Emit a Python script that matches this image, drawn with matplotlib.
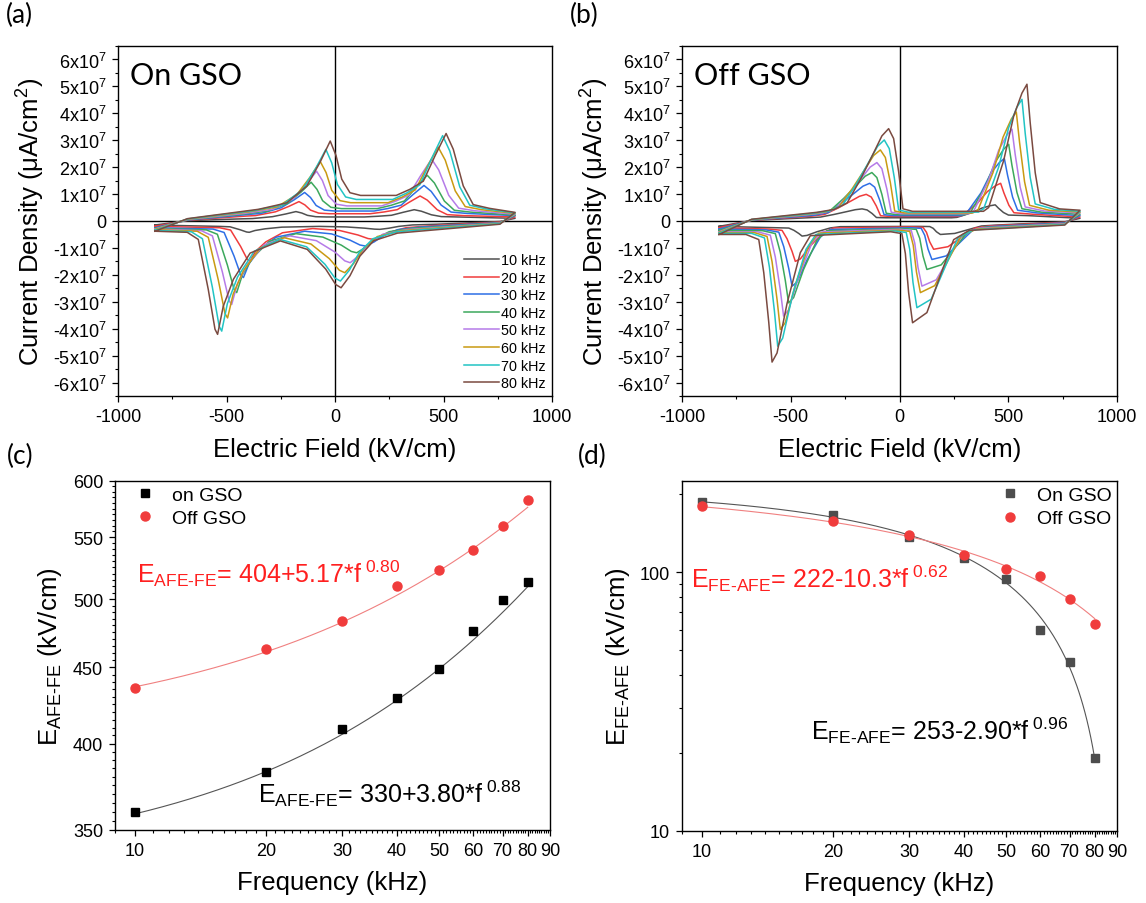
import numpy as np
import matplotlib
matplotlib.use("Agg")
import matplotlib.pyplot as plt
from matplotlib.ticker import FixedLocator, MultipleLocator, FuncFormatter, NullFormatter

plt.rcParams.update({
    'font.family': ['Liberation Sans', 'DejaVu Sans'],
    'mathtext.fontset': 'custom',
    'mathtext.rm': 'Liberation Sans',
    'mathtext.it': 'Liberation Sans:italic',
    'mathtext.bf': 'Liberation Sans:bold',
    'mathtext.default': 'regular',
    'axes.unicode_minus': False,
    'axes.linewidth': 1.0,
    'xtick.direction': 'out',
    'ytick.direction': 'out',
    'xtick.major.size': 4.5,
    'ytick.major.size': 4.5,
    'xtick.minor.size': 2.5,
    'ytick.minor.size': 2.5,
    'xtick.major.width': 0.9,
    'ytick.major.width': 0.9,
    'xtick.minor.width': 0.8,
    'ytick.minor.width': 0.8,
})

# ---------------- data: current loops (E in kV/cm, J in 1e7 uA/cm2) ----------------
freqs = [10, 20, 30, 40, 50, 60, 70, 80]
loop_colors = ['#505050', '#F03C3C', '#2E6FE6', '#3CA85C', '#B57BE8', '#C99A12', '#22C4C4', '#7A4A40']

# On GSO, upper branch (field rising)
on_eL = [-0.15, -0.2, -0.25, -0.28, -0.3, -0.32, -0.35, -0.38]
on_base = [0.08, 0.18, 0.25, 0.32, 0.38, 0.45, 0.52, 0.58]
on_p1E = [-180, -166, -140, -110, -85, -68, -42, -22]
on_p1J = [0.35, 0.72, 1.06, 1.44, 1.85, 2.21, 2.66, 2.97]
on_plat = [0.15, 0.27, 0.37, 0.46, 0.56, 0.68, 0.80, 0.95]
on_p2E = [365, 392, 410, 425, 445, 475, 496, 512]
on_p2J = [0.42, 0.93, 1.32, 1.70, 2.30, 2.75, 3.17, 3.25]
on_tail = [0.15, 0.2, 0.28, 0.33, 0.38, 0.42, 0.45, 0.47]
on_eR = [0.1, 0.15, 0.2, 0.22, 0.25, 0.28, 0.3, 0.32]
# On GSO, lower branch (field falling)
on_lr1 = [-0.02, -0.04, -0.06, -0.07, -0.08, -0.09, -0.1, -0.12]
on_lr2 = [-0.12, -0.18, -0.22, -0.27, -0.32, -0.36, -0.40, -0.45]
on_q1E = [207, 177, 140, 100, 70, 45, 25, 28]
on_q1J = [-0.31, -0.68, -0.93, -1.18, -1.55, -1.92, -2.23, -2.48]
on_lmid = [-0.2, -0.28, -0.38, -0.47, -0.55, -0.62, -0.68, -0.74]
on_q2E = [-395, -392, -422, -453, -476, -495, -522, -541]
on_q2J = [-0.42, -1.49, -2.1, -2.66, -3.1, -3.6, -4.09, -4.21]
on_lleft = [-0.2, -0.25, -0.3, -0.33, -0.36, -0.38, -0.4, -0.42]

# Off GSO, upper branch
off_eL = [-0.2, -0.25, -0.3, -0.35, -0.4, -0.43, -0.46, -0.5]
off_base = [0.12, 0.18, 0.22, 0.27, 0.3, 0.34, 0.38, 0.43]
off_p1E = [-172, -153, -137, -127, -104, -88, -70, -50]
off_p1J = [0.45, 0.99, 1.40, 1.80, 2.17, 2.64, 3.01, 3.43]
off_plat = [0.12, 0.17, 0.2, 0.24, 0.27, 0.3, 0.33, 0.36]
off_p2E = [440, 465, 482, 502, 517, 537, 563, 586]
off_p2J = [0.6, 1.4, 2.32, 2.85, 3.41, 4.05, 4.52, 5.08]
off_tail = [0.2, 0.25, 0.3, 0.33, 0.37, 0.4, 0.43, 0.45]
off_eR = [0.1, 0.15, 0.2, 0.25, 0.3, 0.33, 0.36, 0.4]
# Off GSO, lower branch
off_lr1 = [-0.03, -0.05, -0.07, -0.09, -0.1, -0.12, -0.13, -0.15]
off_lr2 = [-0.15, -0.18, -0.21, -0.24, -0.27, -0.3, -0.33, -0.35]
off_q1E = [188, 157, 149, 126, 103, 96, 80, 60]
off_q1J = [-0.5, -1.05, -1.43, -1.8, -2.42, -2.66, -3.22, -3.78]
off_lmid = [-0.2, -0.22, -0.25, -0.28, -0.31, -0.34, -0.37, -0.4]
off_q2E = [-448, -479, -494, -510, -533, -548, -560, -586]
off_q2J = [-0.56, -1.5, -2.42, -3.04, -3.53, -4.03, -4.65, -5.24]
off_lleft = [-0.25, -0.3, -0.33, -0.36, -0.4, -0.43, -0.46, -0.5]

# flank shapes of the switching peaks (offset from peak in kV/cm, fraction of peak height)
on_shape = {
    'up1_pre': ([-250, -200, -108, -47], [0.0, 0.04, 0.30, 0.67]),
    'up1_post': ([27, 53, 91, 140], [0.73, 0.30, 0.05, 0.0]),
    'up2_pre': ([-230, -166, -105, -51], [0.0, 0.10, 0.23, 0.64]),
    'up2_post': ([33, 79, 125, 200], [0.79, 0.30, 0.05, 0.0]),
    'lo1_pre': ([260, 150, 87, 41], [0.0, 0.14, 0.42, 0.78]),
    'lo1_post': ([-25, -71, -156, -280], [0.93, 0.60, 0.18, 0.0]),
    'lo2_pre': ([150, 73, 26], [0.13, 0.41, 0.70]),
    'lo2_post': ([-12, -43, -89, -140], [0.95, 0.56, 0.07, 0.0]),
}
off_shape = {
    'up1_pre': ([-250, -191, -130, -69, -31], [0.0, 0.08, 0.37, 0.70, 0.91]),
    'up1_post': ([23, 46, 66, 110], [0.88, 0.48, 0.03, 0.0]),
    'up2_pre': ([-200, -176, -107, -61, -23], [0.0, 0.03, 0.40, 0.75, 0.93]),
    'up2_post': ([15, 38, 61, 150], [0.69, 0.29, 0.05, 0.0]),
    'lo1_pre': ([260, 189, 143, 66], [0.0, 0.10, 0.39, 0.89]),
    'lo1_post': ([-18, -33, -49, -100], [0.67, 0.24, 0.02, 0.0]),
    'lo2_pre': ([176, 130, 69, 23], [0.03, 0.16, 0.55, 0.93]),
    'lo2_post': ([-15, -38, -61, -120], [0.69, 0.30, 0.04, 0.0]),
}

# ---------------- data: switching fields ----------------
f_khz = [10, 20, 30, 40, 50, 60, 70, 80]
c_on = [359.7, 383, 409, 429, 449, 476, 499, 513]
c_off = [436, 463, 483, 510, 523, 539, 560, 583]
d_on = [187, 166, 137, 113, 94, 60, 45, 19.2]
d_off = [180, 157, 139, 116, 103, 96.5, 79, 63]
# fit curves  E = a + b*f**c
c_on_fit = (330, 3.80, 0.88)
c_off_fit = (404, 5.17, 0.80)
d_on_fit = (211, -2.4, 1.0)
d_off_fit = (222, -10.3, 0.62)

EMAX = 830


def loop_xy(d, i, shp):
    E, J = [], []

    def add(e, j):
        E.append(e)
        J.append(j)

    def flank(center, peak, ref, offs, fracs):
        for o, fr in zip(offs, fracs):
            add(center + o, ref + fr * (peak - ref))

    base = d['base'][i]
    add(-EMAX, d['eL'][i])
    add(-680, 0.15 * base)
    add(d['p1E'][i] - 330, 0.75 * base)
    flank(d['p1E'][i], d['p1J'][i], base, *shp['up1_pre'])
    add(d['p1E'][i], d['p1J'][i])
    flank(d['p1E'][i], d['p1J'][i], d['plat'][i], *shp['up1_post'])
    flank(d['p2E'][i], d['p2J'][i], d['plat'][i], *shp['up2_pre'])
    add(d['p2E'][i], d['p2J'][i])
    flank(d['p2E'][i], d['p2J'][i], d['tail'][i], *shp['up2_post'])
    add(EMAX, d['eR'][i])
    add(760, d['lr1'][i])
    flank(d['q1E'][i], d['q1J'][i], d['lr2'][i], *shp['lo1_pre'])
    add(d['q1E'][i], d['q1J'][i])
    flank(d['q1E'][i], d['q1J'][i], d['lmid'][i], *shp['lo1_post'])
    flank(d['q2E'][i], d['q2J'][i], d['lmid'][i], *shp['lo2_pre'])
    add(d['q2E'][i], d['q2J'][i])
    flank(d['q2E'][i], d['q2J'][i], d['lleft'][i], *shp['lo2_post'])
    add(-EMAX, d['eL'][i])
    return np.array(E), np.array(J) * 1e7


on_data = dict(eL=on_eL, base=on_base, p1E=on_p1E, p1J=on_p1J, plat=on_plat, p2E=on_p2E,
               p2J=on_p2J, tail=on_tail, eR=on_eR, lr1=on_lr1, lr2=on_lr2, q1E=on_q1E,
               q1J=on_q1J, lmid=on_lmid, q2E=on_q2E, q2J=on_q2J, lleft=on_lleft)
off_data = dict(eL=off_eL, base=off_base, p1E=off_p1E, p1J=off_p1J, plat=off_plat, p2E=off_p2E,
                p2J=off_p2J, tail=off_tail, eR=off_eR, lr1=off_lr1, lr2=off_lr2, q1E=off_q1E,
                q1J=off_q1J, lmid=off_lmid, q2E=off_q2E, q2J=off_q2J, lleft=off_lleft)


def jfmt(v, pos):
    n = int(round(v / 1e7))
    if n == 0:
        return '0'
    return '%dx10$^{7}$' % n


W, H = 1146.0, 904.0


def px_axes(x0, y0, x1, y1):
    return [x0 / W, 1 - y1 / H, (x1 - x0) / W, (y1 - y0) / H]


fig = plt.figure(figsize=(11.46, 9.04), dpi=100)
ax_a = fig.add_axes(px_axes(118, 47, 552, 397))
ax_b = fig.add_axes(px_axes(682, 47, 1117, 397))
ax_c = fig.add_axes(px_axes(115, 482, 550, 831))
ax_d = fig.add_axes(px_axes(682, 482, 1117, 832))

TICK_FS = 13
LABEL_FS = 18.5

for ax, d, shp, title in [(ax_a, on_data, on_shape, 'On GSO'), (ax_b, off_data, off_shape, 'Off GSO')]:
    ax.axhline(0, color='black', lw=1.0, zorder=1)
    ax.axvline(0, color='black', lw=1.0, zorder=1)
    for i, f in enumerate(freqs):
        E, J = loop_xy(d, i, shp)
        ax.plot(E, J, color=loop_colors[i], lw=1.1, label='%d kHz' % f, zorder=2 + i)
    ax.set_xlim(-1000, 1000)
    ax.set_ylim(-6.5e7, 6.5e7)
    ax.xaxis.set_major_locator(MultipleLocator(500))
    ax.xaxis.set_minor_locator(MultipleLocator(250))
    ax.yaxis.set_major_locator(MultipleLocator(1e7))
    ax.yaxis.set_minor_locator(MultipleLocator(5e6))
    ax.yaxis.set_major_formatter(FuncFormatter(jfmt))
    ax.tick_params(which='both', top=False, right=False, labelsize=TICK_FS, pad=4)
    ax.set_xlabel('Electric Field (kV/cm)', fontsize=LABEL_FS, labelpad=9)
    ax.set_ylabel('Current Density (μA/cm$^{2}$)', fontsize=LABEL_FS, labelpad=4)
    ax.text(0.028, 0.891, title, transform=ax.transAxes, fontsize=22,
            family=['Lato', 'DejaVu Sans'], va='baseline', ha='left')

ax_a.legend(loc='lower right', frameon=False, fontsize=10.4, handlelength=2.4,
            handletextpad=0.2, labelspacing=0.25, borderpad=0.2, borderaxespad=0.2)

# panel (c)
fgrid = np.geomspace(10, 80, 200)
a, b, c = c_off_fit
ax_c.plot(fgrid, a + b * fgrid ** c, color='#F08080', lw=0.8, zorder=2)
a, b, c = c_on_fit
ax_c.plot(fgrid, a + b * fgrid ** c, color='#555555', lw=0.8, zorder=2)
ax_c.plot(f_khz, c_on, 's', color='black', ms=6, label='on GSO', zorder=3)
ax_c.plot(f_khz, c_off, 'o', color='#F03C3C', ms=6.5, label='Off GSO', zorder=3)
ax_c.set_yscale('log')
ax_c.set_ylim(350, 600)
ax_c.yaxis.set_major_locator(FixedLocator([350, 400, 450, 500, 550, 600]))
ax_c.yaxis.set_minor_locator(FixedLocator([v for v in range(355, 600, 5) if v % 50 != 0]))
ax_c.yaxis.set_major_formatter(FuncFormatter(lambda v, p: '%d' % round(v)))
ax_c.yaxis.set_minor_formatter(NullFormatter())
ax_c.set_ylabel('E$_{\\text{AFE-FE}}$ (kV/cm)', fontsize=LABEL_FS, labelpad=6)
ax_c.text(0.0506, 0.711, 'E$_{\\text{AFE-FE}}$= 404+5.17*f$^{\\ 0.80}$', transform=ax_c.transAxes,
          color='#FF2020', fontsize=18, va='baseline', ha='left')
ax_c.text(0.329, 0.081, 'E$_{\\text{AFE-FE}}$= 330+3.80*f$^{\\ 0.88}$', transform=ax_c.transAxes,
          color='black', fontsize=18, va='baseline', ha='left')
ax_c.legend(loc='upper left', bbox_to_anchor=(0.046, 0.985), frameon=False, fontsize=14,
            handlelength=1.0, handletextpad=0.9, labelspacing=0.3, borderpad=0, borderaxespad=0)

# panel (d)
a, b, c = d_on_fit
ax_d.plot(fgrid, a + b * fgrid ** c, color='#555555', lw=0.8, zorder=2)
a, b, c = d_off_fit
ax_d.plot(fgrid, a + b * fgrid ** c, color='#F08080', lw=0.8, zorder=2)
ax_d.plot(f_khz, d_on, 's', color='#4D4D4D', ms=6, label='On GSO', zorder=3)
ax_d.plot(f_khz, d_off, 'o', color='#F03C3C', ms=6.5, label='Off GSO', zorder=3)
ax_d.set_yscale('log')
ax_d.set_ylim(10, 225)
ax_d.yaxis.set_major_locator(FixedLocator([10, 100]))
ax_d.yaxis.set_minor_locator(FixedLocator([20, 30, 40, 50, 60, 70, 80, 90, 200]))
ax_d.yaxis.set_major_formatter(FuncFormatter(lambda v, p: '%d' % round(v)))
ax_d.yaxis.set_minor_formatter(NullFormatter())
ax_d.set_ylabel('E$_{\\text{FE-AFE}}$ (kV/cm)', fontsize=LABEL_FS, labelpad=6)
ax_d.text(0.0207, 0.697, 'E$_{\\text{FE-AFE}}$= 222-10.3*f$^{\\ 0.62}$', transform=ax_d.transAxes,
          color='#FF2020', fontsize=18, va='baseline', ha='left')
ax_d.text(0.2966, 0.263, 'E$_{\\text{FE-AFE}}$= 253-2.90*f$^{\\ 0.96}$', transform=ax_d.transAxes,
          color='black', fontsize=18, va='baseline', ha='left')
ax_d.legend(loc='upper right', bbox_to_anchor=(0.989, 0.985), frameon=False, fontsize=14,
            handlelength=1.0, handletextpad=0.9, labelspacing=0.3, borderpad=0, borderaxespad=0)

for ax in (ax_c, ax_d):
    ax.set_xscale('log')
    ax.set_xlim(9, 90)
    ax.xaxis.set_major_locator(FixedLocator([10, 20, 30, 40, 50, 60, 70, 80, 90]))
    ax.xaxis.set_minor_locator(FixedLocator([v for v in range(9, 91) if v % 10 != 0]))
    ax.xaxis.set_major_formatter(FuncFormatter(lambda v, p: '%d' % round(v)))
    ax.xaxis.set_minor_formatter(NullFormatter())
    ax.tick_params(which='both', top=False, right=False, labelsize=TICK_FS, pad=4)
    ax.set_xlabel('Frequency (kHz)', fontsize=LABEL_FS, labelpad=8)

for lab, x, y in [('(a)', 6, 3), ('(b)', 570, 3), ('(c)', 7, 444), ('(d)', 578, 444)]:
    fig.text(x / W, 1 - y / H, lab, fontsize=19, family=['Lato', 'DejaVu Sans'], va='top', ha='left')

fig.savefig('out.png', dpi=100)
